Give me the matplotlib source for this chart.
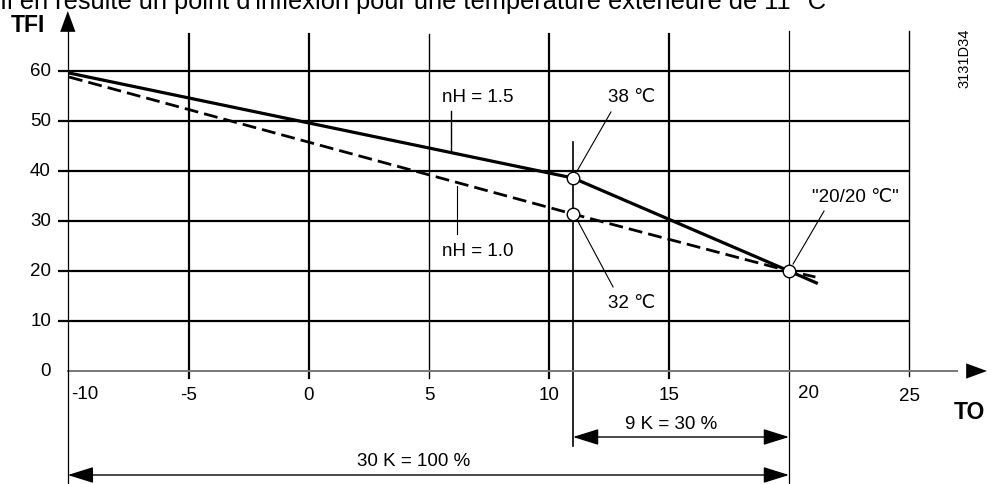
import matplotlib.pyplot as plt

plt.rcParams['font.family'] = ['Liberation Sans', 'DejaVu Sans']

# axis ticks
to_ticks = [-10, -5, 0, 5, 10, 15, 20, 25]
tfi_ticks = [0, 10, 20, 30, 40, 50, 60]

# heating curves (TO -> TFI)
nh15_to = [-10, 11, 20, 21.2]
nh15_tfi = [59.6, 38.6, 20, 17.5]
nh10_to = [-10, 11, 20, 21.1]
nh10_tfi = [58.8, 31.4, 20, 18.8]

# marked points
point_to = [11, 11, 20]
point_tfi = [38.6, 31.4, 20]
point_labels = ['38 ℃', '32 ℃', '"20/20 ℃"']

knee_to = 11
design_to = 20

FS = 13.5

# figure pixels -> data: x = 309 + 24*TO, y = 372 - 5*TFI
fig = plt.figure(figsize=(9.99, 4.85), dpi=100)
ax = fig.add_axes([0, 0, 1, 1])
ax.set_xlim((0 - 309) / 24, (999 - 309) / 24)
ax.set_ylim((372 - 485) / 5, (372 - 0) / 5)
ax.axis('off')

# horizontal grid
for v in tfi_ticks[1:]:
    ax.plot([-10.45, 25], [v, v], color='black', lw=1.6, solid_capstyle='butt')
for v in tfi_ticks:
    ax.text(-10.75, v, str(v), ha='right', va='center', fontsize=FS)

# vertical grid
for t in to_ticks[1:]:
    if t == 20:
        continue
    lw = 1.6 if t in (-5, 0, 10, 15) else 1.0
    if t == 25:
        ax.plot([t, t], [68, -1], color='black', lw=lw)
    else:
        ax.plot([t, t], [67.4, -1.4], color='black', lw=lw)

# thin design line and knee line
ax.plot([design_to, design_to], [68, -23], color='black', lw=0.9)
ax.plot([knee_to, knee_to], [45.8, -15], color='black', lw=1.2)

# x-axis tick labels
label_pos = {-10: (-9.35, -4.6), 20: (20.8, -4.4), 25: (25, -5.0)}
for t in to_ticks:
    x, y = label_pos.get(t, (t, -4.8))
    ax.text(x, y, str(t), ha='center', va='center', fontsize=FS)

# axes
head = '-|>,head_length=1.5,head_width=0.55'
ax.plot([-10.05, 27.0], [0, 0], color='#777777', lw=1.4)
ax.annotate('', xy=(28.25, 0), xytext=(26.5, 0),
            arrowprops=dict(arrowstyle=head, color='black', lw=0, shrinkA=0, shrinkB=0))
ax.plot([-10.05, -10.05], [-23, 68], color='black', lw=0.9)
ax.annotate('', xy=(-10.05, 72), xytext=(-10.05, 66),
            arrowprops=dict(arrowstyle=head, color='black', lw=0, shrinkA=0, shrinkB=0))
ax.text(-11.7, 69.4, 'TFI', ha='center', va='center', fontsize=16.5, fontweight='bold')
ax.text(27.5, -8.2, 'TO', ha='center', va='center', fontsize=16.5, fontweight='bold')

# curves
ax.plot(nh15_to, nh15_tfi, color='black', lw=2.3, solid_capstyle='butt')
ax.plot(nh10_to, nh10_tfi, color='black', lw=2.0, dashes=(5, 2.2))
ax.plot(point_to, point_tfi, 'o', ms=9, mfc='white', mec='black', mew=1.0, zorder=5)

# curve labels with leaders
ax.text(7.04, 54.8, 'nH = 1.5', ha='center', va='center', fontsize=FS)
ax.plot([5.92, 5.92], [52, 44], color='black', lw=1.0)
ax.text(7.04, 24, 'nH = 1.0', ha='center', va='center', fontsize=FS)
ax.plot([6.17, 6.17], [37, 27.4], color='black', lw=0.8)

# point labels with leaders
ax.text(13.46, 55, point_labels[0], ha='center', va='center', fontsize=FS)
ax.plot([12.58, 11.17], [51.8, 40], color='black', lw=0.8)
ax.text(13.46, 13.8, point_labels[1], ha='center', va='center', fontsize=FS)
ax.plot([11.2, 12.67], [30, 16.8], color='black', lw=0.8)
ax.text(22.75, 35, point_labels[2], ha='center', va='center', fontsize=FS)
ax.plot([21.46, 20.17], [32, 21.4], color='black', lw=0.8)

# dimension arrows
arrow = dict(arrowstyle='<|-|>,head_length=1.6,head_width=0.5', color='black', lw=1.0,
             shrinkA=0, shrinkB=0)
ax.annotate('', xy=(knee_to, -13.2), xytext=(design_to, -13.2), arrowprops=arrow)
ax.text(15.1, -10.6, '9 K = 30 %', ha='center', va='center', fontsize=FS)
ax.annotate('', xy=(-10.05, -20.8), xytext=(design_to, -20.8), arrowprops=arrow)
ax.text(4.35, -18.0, '30 K = 100 %', ha='center', va='center', fontsize=FS)

# header text (cut at top) and drawing code
fig.text(0.0, 1 - 9 / 485, "Il en résulte un point d'inflexion pour une température extérieure de 11 °C",
         ha='left', va='baseline', fontsize=18.3)
ax.text(27.3, 62.8, '3131D34', ha='center', va='center', rotation=90, fontsize=10.5)

fig.savefig('out.png', dpi=100)
